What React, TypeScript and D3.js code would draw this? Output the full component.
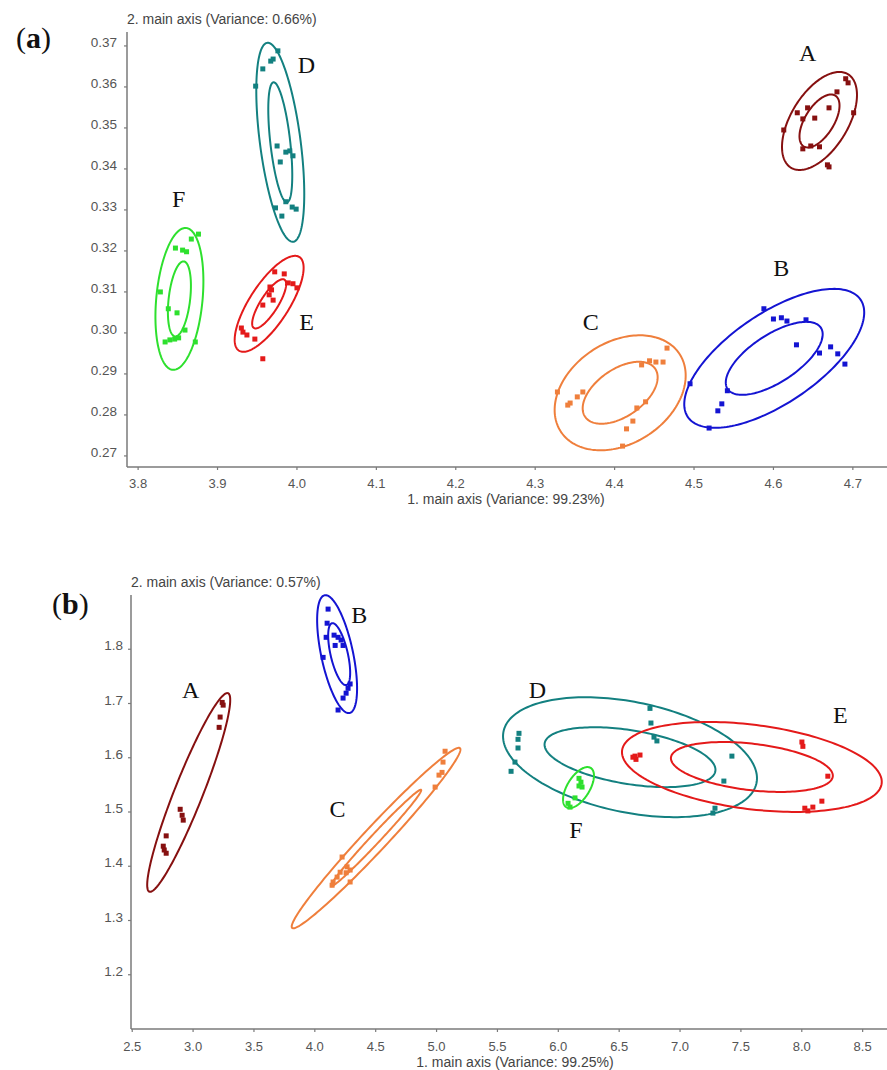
import React from "react";
import * as d3 from "d3";

type Pt = [number, number];
type Ell = { cx: number; cy: number; rx: number; ry: number; rho: number };

const groups = ["A", "B", "C", "D", "E", "F"];
const colors: Record<string, string> = {
  A: "#861010",
  B: "#1414d2",
  C: "#ef7f3c",
  D: "#138080",
  E: "#e41a1a",
  F: "#2ee02e",
};

// ---------- panel (a) ----------
const aTitleX = "1. main axis (Variance: 99.23%)";
const aTitleY = "2. main axis (Variance: 0.66%)";
const aTicksX = [3.8, 3.9, 4.0, 4.1, 4.2, 4.3, 4.4, 4.5, 4.6, 4.7];
const aTicksY = [0.27, 0.28, 0.29, 0.3, 0.31, 0.32, 0.33, 0.34, 0.35, 0.36, 0.37];

const aPtsA: Pt[] = [
  [4.691, 0.362], [4.694, 0.361], [4.68, 0.3588], [4.67, 0.3549], [4.643, 0.3549],
  [4.63, 0.3537], [4.637, 0.3522], [4.652, 0.3524], [4.701, 0.3537], [4.613, 0.3495],
  [4.637, 0.3449], [4.647, 0.3456], [4.658, 0.3454], [4.668, 0.341], [4.67, 0.3405],
];
const aPtsB: Pt[] = [
  [4.588, 0.3059], [4.6, 0.3034], [4.61, 0.3037], [4.617, 0.3029], [4.641, 0.3032],
  [4.629, 0.2971], [4.658, 0.2951], [4.672, 0.2966], [4.681, 0.2949], [4.69, 0.2924],
  [4.495, 0.2876], [4.542, 0.2859], [4.535, 0.2827], [4.53, 0.281], [4.519, 0.2768],
];
const aPtsC: Pt[] = [
  [4.466, 0.2963], [4.444, 0.2932], [4.452, 0.2929], [4.461, 0.2929], [4.434, 0.2922],
  [4.439, 0.2832], [4.428, 0.2817], [4.423, 0.2785], [4.415, 0.2766], [4.41, 0.2724],
  [4.328, 0.2856], [4.36, 0.2856], [4.353, 0.2844], [4.344, 0.2829], [4.341, 0.2824],
];
const aPtsD: Pt[] = [
  [3.976, 0.3688], [3.97, 0.3668], [3.967, 0.3663], [3.957, 0.3644], [3.948, 0.3602],
  [3.975, 0.3456], [3.979, 0.3417], [3.986, 0.3441], [3.991, 0.3444], [3.995, 0.3432],
  [3.986, 0.332], [3.994, 0.3307], [3.999, 0.3302], [3.973, 0.3305], [3.981, 0.3285],
];
const aPtsE: Pt[] = [
  [3.972, 0.3149], [3.984, 0.3144], [3.989, 0.3122], [3.995, 0.312], [4.0, 0.311],
  [3.966, 0.3112], [3.968, 0.3105], [3.965, 0.3093], [3.97, 0.308], [3.957, 0.3068],
  [3.93, 0.3012], [3.932, 0.3002], [3.937, 0.2995], [3.947, 0.2985], [3.957, 0.2937],
];
const aPtsF: Pt[] = [
  [3.876, 0.3241], [3.867, 0.3229], [3.847, 0.3207], [3.856, 0.3202], [3.861, 0.3198],
  [3.828, 0.31], [3.838, 0.3059], [3.849, 0.3049], [3.859, 0.3007], [3.834, 0.2978],
  [3.84, 0.2983], [3.846, 0.2985], [3.851, 0.2988], [3.872, 0.2978],
];

// confidence ellipses, order A..F
const aOuter: Ell[] = [
  { cx: 4.658, cy: 0.3517, rx: 0.0472, ry: 0.01195, rho: 0.53 },
  { cx: 4.601, cy: 0.2938, rx: 0.1133, ry: 0.01695, rho: 0.66 },
  { cx: 4.407, cy: 0.2854, rx: 0.0825, ry: 0.01402, rho: 0.3 },
  { cx: 3.979, cy: 0.3465, rx: 0.0302, ry: 0.02427, rho: -0.52 },
  { cx: 3.965, cy: 0.3071, rx: 0.0434, ry: 0.0117, rho: 0.75 },
  { cx: 3.852, cy: 0.3083, rx: 0.0302, ry: 0.0173, rho: 0.25 },
];
const aInner: (Ell | null)[] = [
  { cx: 4.658, cy: 0.3517, rx: 0.0252, ry: 0.00646, rho: 0.58 },
  { cx: 4.601, cy: 0.2938, rx: 0.061, ry: 0.0089, rho: 0.66 },
  { cx: 4.407, cy: 0.2854, rx: 0.0472, ry: 0.00756, rho: 0.5 },
  { cx: 3.979, cy: 0.3465, rx: 0.0151, ry: 0.01463, rho: -0.55 },
  { cx: 3.965, cy: 0.3071, rx: 0.0214, ry: 0.006, rho: 0.8 },
  { cx: 3.852, cy: 0.3083, rx: 0.0145, ry: 0.00915, rho: 0.35 },
];
const aLabelAt: Pt[] = [
  [4.643, 0.3663], [4.61, 0.3139], [4.37, 0.3007], [4.012, 0.3634], [4.012, 0.3007], [3.851, 0.3307],
];

// ---------- panel (b) ----------
const bTitleX = "1. main axis (Variance: 99.25%)";
const bTitleY = "2. main axis (Variance: 0.57%)";
const bTicksX = [2.5, 3.0, 3.5, 4.0, 4.5, 5.0, 5.5, 6.0, 6.5, 7.0, 7.5, 8.0, 8.5];
const bTicksY = [1.2, 1.3, 1.4, 1.5, 1.6, 1.7, 1.8];

const bPtsA: Pt[] = [
  [3.239, 1.702], [3.247, 1.697], [3.222, 1.675], [3.214, 1.656], [2.894, 1.505],
  [2.91, 1.494], [2.919, 1.485], [2.779, 1.456], [2.755, 1.437], [2.763, 1.43], [2.779, 1.424],
];
const bPtsB: Pt[] = [
  [4.109, 1.874], [4.101, 1.848], [4.093, 1.822], [4.158, 1.826], [4.191, 1.822],
  [4.216, 1.817], [4.232, 1.807], [4.167, 1.807], [4.068, 1.785], [4.29, 1.736],
  [4.273, 1.728], [4.257, 1.719], [4.232, 1.71], [4.191, 1.688],
];
const bPtsC: Pt[] = [
  [5.07, 1.612], [5.053, 1.592], [5.045, 1.573], [5.02, 1.568], [4.988, 1.546],
  [4.224, 1.417], [4.265, 1.399], [4.29, 1.393], [4.257, 1.388], [4.208, 1.389],
  [4.183, 1.38], [4.15, 1.371], [4.142, 1.365], [4.29, 1.371],
];
const bPtsD: Pt[] = [
  [5.677, 1.645], [5.669, 1.634], [5.669, 1.618], [5.644, 1.592], [5.612, 1.575],
  [6.753, 1.691], [6.761, 1.664], [6.786, 1.638], [6.81, 1.631], [7.426, 1.603],
  [7.36, 1.557], [7.287, 1.507], [7.27, 1.498],
];
const bPtsE: Pt[] = [
  [6.613, 1.601], [6.638, 1.597], [6.63, 1.603], [6.671, 1.605], [8.001, 1.629],
  [8.009, 1.621], [8.214, 1.566], [8.165, 1.52], [8.025, 1.507], [8.05, 1.502], [8.091, 1.509],
];
const bPtsF: Pt[] = [
  [6.17, 1.562], [6.186, 1.555], [6.17, 1.548], [6.195, 1.546], [6.137, 1.526],
  [6.08, 1.516], [6.096, 1.509],
];

const bOuter: Ell[] = [
  { cx: 2.964, cy: 1.536, rx: 0.341, ry: 0.1832, rho: 0.93 },
  { cx: 4.183, cy: 1.791, rx: 0.164, ry: 0.1087, rho: -0.58 },
  { cx: 4.503, cy: 1.452, rx: 0.693, ry: 0.1663, rho: 0.981 },
  { cx: 6.589, cy: 1.601, rx: 1.043, ry: 0.1105, rho: -0.35 },
  { cx: 7.59, cy: 1.583, rx: 1.067, ry: 0.0829, rho: -0.33 },
  { cx: 6.166, cy: 1.545, rx: 0.127, ry: 0.0378, rho: 0.58 },
];
const bInner: (Ell | null)[] = [
  null,
  { cx: 4.2, cy: 1.791, rx: 0.0903, ry: 0.0571, rho: -0.6 },
  { cx: 4.503, cy: 1.452, rx: 0.371, ry: 0.089, rho: 0.99 },
  { cx: 6.589, cy: 1.601, rx: 0.702, ry: 0.0552, rho: -0.42 },
  { cx: 7.59, cy: 1.583, rx: 0.665, ry: 0.046, rho: -0.35 },
  null,
];
const bLabelAt: Pt[] = [
  [2.98, 1.7098], [4.364, 1.8479], [4.187, 1.4906], [5.829, 1.7098], [8.317, 1.6637], [6.145, 1.4519],
];

const sans = "'Liberation Sans', Arial, sans-serif";
const serif = "'Liberation Serif', 'Times New Roman', serif";

function ellipsePoints(e: Ell): Pt[] {
  const phi = Math.acos(e.rho);
  return d3.range(0, 2 * Math.PI, Math.PI / 90).map((t) => [
    e.cx + e.rx * Math.cos(t),
    e.cy + e.ry * Math.cos(t + phi),
  ]);
}

type PanelProps = {
  tag: string;
  tagX: number;
  tagY: number;
  xDomain: [number, number];
  yDomain: [number, number];
  xRange: [number, number];
  yRange: [number, number];
  ticksX: number[];
  ticksY: number[];
  fmtX: (v: number) => string;
  fmtY: (v: number) => string;
  titleX: string;
  titleY: string;
  titleXAt: number;
  points: Pt[][];
  outer: Ell[];
  inner: (Ell | null)[];
  labelAt: Pt[];
  yLabelGap: number;
  xLabelGap: number;
};

const Panel = (p: PanelProps) => {
  const x = d3.scaleLinear().domain(p.xDomain).range(p.xRange);
  const y = d3.scaleLinear().domain(p.yDomain).range(p.yRange);
  const line = d3
    .line<Pt>()
    .x((d) => x(d[0]))
    .y((d) => y(d[1]))
    .curve(d3.curveLinearClosed);
  const x0 = p.xRange[0];
  const y0 = p.yRange[0];
  const axisColor = "#7a7a7a";
  const textColor = "#555";

  return (
    <g>
      <text x={p.tagX} y={p.tagY} fontFamily={serif} fontSize={30} fill="#111">
        (<tspan fontWeight="bold">{p.tag}</tspan>)
      </text>

      {/* axes */}
      <line x1={x0} x2={x0} y1={p.yRange[1]} y2={y0} stroke={axisColor} strokeWidth={1.5} />
      <line x1={x0} x2={p.xRange[1]} y1={y0} y2={y0} stroke={axisColor} strokeWidth={1.5} />
      {p.ticksY.map((t) => (
        <g key={"y" + t}>
          <line x1={x0 - 3} x2={x0} y1={y(t)} y2={y(t)} stroke={axisColor} strokeWidth={1.2} />
          <text
            x={x0 - p.yLabelGap}
            y={y(t) + 1}
            textAnchor="end"
            fontFamily={sans}
            fontSize={13.5}
            fill={textColor}
          >
            {p.fmtY(t)}
          </text>
        </g>
      ))}
      {p.ticksX.map((t) => (
        <g key={"x" + t}>
          <line x1={x(t)} x2={x(t)} y1={y0} y2={y0 + 3} stroke={axisColor} strokeWidth={1.2} />
          <text
            x={x(t)}
            y={y0 + p.xLabelGap}
            textAnchor="middle"
            fontFamily={sans}
            fontSize={13}
            fill={textColor}
          >
            {p.fmtX(t)}
          </text>
        </g>
      ))}
      <text x={x0} y={p.yRange[1] - 8} fontFamily={sans} fontSize={14} fill="#444">
        {p.titleY}
      </text>
      <text
        x={p.titleXAt}
        y={y0 + p.xLabelGap + 16}
        textAnchor="middle"
        fontFamily={sans}
        fontSize={14}
        fill="#444"
      >
        {p.titleX}
      </text>

      {/* clusters */}
      {groups.map((g, i) => {
        const c = colors[g];
        const inn = p.inner[i];
        return (
          <g key={g}>
            <path d={line(ellipsePoints(p.outer[i])) || ""} fill="none" stroke={c} strokeWidth={2} />
            {inn && <path d={line(ellipsePoints(inn)) || ""} fill="none" stroke={c} strokeWidth={2} />}
            {p.points[i].map((d, k) => (
              <rect key={k} x={x(d[0]) - 2.5} y={y(d[1]) - 2.5} width={5} height={5} fill={c} />
            ))}
            <text
              x={x(p.labelAt[i][0])}
              y={y(p.labelAt[i][1])}
              textAnchor="middle"
              fontFamily={serif}
              fontSize={24}
              fill="#111"
            >
              {g}
            </text>
          </g>
        );
      })}
    </g>
  );
};

export default function App() {
  return (
    <svg
      width={887}
      height={1070}
      style={{ position: "absolute", left: 0, top: 0, background: "#fff" }}
    >
      <Panel
        tag="a"
        tagX={16}
        tagY={48}
        xDomain={[3.786, 4.743]}
        yDomain={[0.2673, 0.3734]}
        xRange={[127, 887]}
        yRange={[467, 32]}
        ticksX={aTicksX}
        ticksY={aTicksY}
        fmtX={(v) => v.toFixed(1)}
        fmtY={(v) => v.toFixed(2)}
        titleX={aTitleX}
        titleY={aTitleY}
        titleXAt={506}
        points={[aPtsA, aPtsB, aPtsC, aPtsD, aPtsE, aPtsF]}
        outer={aOuter}
        inner={aInner}
        labelAt={aLabelAt}
        yLabelGap={10}
        xLabelGap={21}
      />
      <Panel
        tag="b"
        tagX={52}
        tagY={614}
        xDomain={[2.49, 8.7]}
        yDomain={[1.1, 1.9]}
        xRange={[131, 887]}
        yRange={[1029, 595]}
        ticksX={bTicksX}
        ticksY={bTicksY}
        fmtX={(v) => v.toFixed(1)}
        fmtY={(v) => v.toFixed(1)}
        titleX={bTitleX}
        titleY={bTitleY}
        titleXAt={515}
        points={[bPtsA, bPtsB, bPtsC, bPtsD, bPtsE, bPtsF]}
        outer={bOuter}
        inner={bInner}
        labelAt={bLabelAt}
        yLabelGap={8}
        xLabelGap={22}
      />
    </svg>
  );
}
